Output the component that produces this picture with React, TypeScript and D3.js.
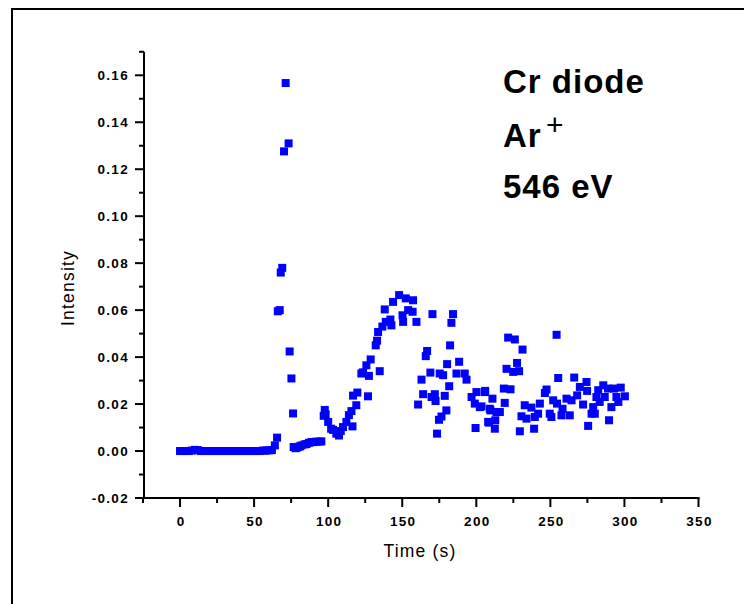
import React from "react";
import * as d3 from "d3";

const flatTimes = [0, 2, 4, 6, 8, 10, 12, 14, 16, 18, 20, 22, 24, 26, 28, 30, 32, 34, 36, 38, 40, 42, 44, 46, 48, 50, 52, 54, 56, 58, 60, 62];
const flatValues = [0, 0, 0, 0, 0.0002, 0.0005, 0.0004, 0, 0, 0, 0, 0, 0, 0, 0, 0, 0, 0, 0, 0, 0, 0, 0, 0, 0, 0, 0, 0, 0.0002, 0.0002, 0.0003, 0.0004];

const times = [
  64, 65.5, 66, 67.3, 68, 69, 70.2, 71.3, 73.3, 74, 75.2, 76.3, 76.7, 78, 79, 80, 81, 82, 84, 85.4, 87, 88.7, 90, 92, 94, 95.4,
  97, 97.7, 98.3, 100, 102, 103.3, 105.5, 107.3, 108.5, 110, 112.3, 114, 115.7, 116.4, 116.8, 119, 119.7, 122.4, 123.5, 125.8,
  126.9, 127.5, 128.7, 132.1, 133, 133.7, 134.8, 136.6, 138.2, 138.9, 142, 142.7, 143.8, 147.9, 150.2, 150.6, 152.4, 154, 157,
  157.3, 159.6, 160.7, 163, 164.1, 165.9, 166.8, 169, 169.8, 170.4, 172, 172.5, 173.5, 174.8, 175.3, 176.5, 177.6, 178.7, 179.8,
  180.3, 181.7, 182.3, 183.2, 184.3, 186.6, 188.4, 192.2, 193.4, 196.8, 199, 199.5, 200.1, 202.4, 203.5, 205.7, 206, 208, 208.6,
  209.1, 209.5, 210.9, 212.5, 212.8, 213.6, 215.9, 218.6, 219.2, 220.4, 221.5, 223.1, 224.9, 226, 227.5, 228.9, 229.4, 230.5,
  231.2, 232.7, 233.9, 237.2, 239, 239.5, 241.7, 242.9, 246.3, 247.4, 249.6, 250.7, 251.9, 254.2, 254.5, 255.3, 257.5, 258.2,
  260.9, 263.1, 264.3, 266.1, 268.1, 269.9, 272.1, 274.4, 274.8, 275.5, 277.8, 278.9, 280, 281.1, 282.3, 283.3, 285.7, 286.7,
  288.9, 289.6, 291.2, 293, 294.6, 295.9, 297.5, 300.3,
];
const values = [
  0.0024, 0.0057, 0.0595, 0.06, 0.076, 0.078, 0.1276, 0.1567, 0.131, 0.0424, 0.0309, 0.016, 0.0017, 0.0012, 0.0015, 0.0018, 0.002, 0.0024, 0.0028, 0.003, 0.0035, 0.0038, 0.0038, 0.004, 0.004, 0.0041,
  0.015, 0.0175, 0.0156, 0.0124, 0.0095, 0.009, 0.0074, 0.0066, 0.0085, 0.0102, 0.0124, 0.0153, 0.017, 0.0105, 0.0236, 0.0195, 0.0249, 0.033, 0.0335, 0.0365,
  0.0233, 0.032, 0.039, 0.045, 0.047, 0.0507, 0.034, 0.053, 0.0603, 0.055, 0.056, 0.0535, 0.0635, 0.0664, 0.0578, 0.055, 0.065, 0.06, 0.0593,
  0.0642, 0.055, 0.0198, 0.0304, 0.0242, 0.0404, 0.0426, 0.0334, 0.023, 0.0583, 0.0242, 0.0213, 0.0074, 0.0133, 0.033, 0.0147, 0.0323, 0.0235, 0.0173,
  0.037, 0.0276, 0.045, 0.0546, 0.0583, 0.033, 0.038, 0.033, 0.0304, 0.023, 0.0202, 0.0098, 0.0251, 0.0187, 0.019, 0.0251, 0.0256, 0.0124, 0.0121,
  0.018, 0.0173, 0.0223, 0.0095, 0.0131, 0.0166, 0.0166, 0.0266, 0.0205, 0.035, 0.0483, 0.0263, 0.0337, 0.0475, 0.0375, 0.034, 0.0084, 0.0148,
  0.0432, 0.0195, 0.0138, 0.0185, 0.0095, 0.0145, 0.0159, 0.0202, 0.0247, 0.0262, 0.0159, 0.0145, 0.0216, 0.0495, 0.0202, 0.0311, 0.0152, 0.018,
  0.0223, 0.0152, 0.0216, 0.0313, 0.0237, 0.0273, 0.0198, 0.0294, 0.0256, 0.0107, 0.0159, 0.0187, 0.0159, 0.023, 0.0259, 0.0209, 0.028, 0.023,
  0.0266, 0.0131, 0.0187, 0.0266, 0.023, 0.0209, 0.027, 0.0233,
];

const xMajorTicks = [0, 50, 100, 150, 200, 250, 300, 350];
const xMinorTicks = [-25, 25, 75, 125, 175, 225, 275, 325];
const yMajorTicks = [-0.02, 0, 0.02, 0.04, 0.06, 0.08, 0.1, 0.12, 0.14, 0.16];
const yMinorTicks = [-0.01, 0.01, 0.03, 0.05, 0.07, 0.09, 0.11, 0.13, 0.15, 0.17];

export default function App() {
  const x = d3.scaleLinear().domain([-25, 350]).range([143, 698.5]);
  const y = d3.scaleLinear().domain([-0.02, 0.17]).range([498, 51.8]);
  const pts = [
    ...flatTimes.map((t, i) => [t, flatValues[i]]),
    ...times.map((t, i) => [t, values[i]]),
  ];
  const sq = 8;
  const tickFont = { fontFamily: "Liberation Sans, Arial, sans-serif", fontWeight: 700, fontSize: 13.5, letterSpacing: 1.3 } as const;
  return (
    <svg width={744} height={604} style={{ position: "absolute", left: 0, top: 0, background: "#fff" }}>
      <rect x={0} y={0} width={744} height={604} fill="#fff" />
      <line x1={12} y1={9} x2={12} y2={604} stroke="#000" strokeWidth={2} />
      <line x1={11} y1={9} x2={744} y2={9} stroke="#000" strokeWidth={2} />
      {pts.map(([t, v], i) => (
        <rect key={i} x={x(t) - sq / 2} y={y(v) - sq / 2} width={sq} height={sq} fill="#0000ff" />
      ))}
      <line x1={144} y1={y(0.17)} x2={144} y2={499} stroke="#000" strokeWidth={2} />
      <line x1={143} y1={498} x2={x(350) + 1} y2={498} stroke="#000" strokeWidth={2} />
      {yMajorTicks.map((v) => (
        <g key={"ym" + v}>
          <line x1={135} x2={144} y1={y(v)} y2={y(v)} stroke="#000" strokeWidth={2} />
          <text x={129} y={y(v)} dy="0.36em" textAnchor="end" {...tickFont}>
            {d3.format(".2f")(v).replace("−", "-")}
          </text>
        </g>
      ))}
      {yMinorTicks.map((v) => (
        <line key={"yn" + v} x1={139} x2={144} y1={y(v)} y2={y(v)} stroke="#000" strokeWidth={2} />
      ))}
      {xMajorTicks.map((t) => (
        <g key={"xm" + t}>
          <line x1={x(t)} x2={x(t)} y1={498} y2={507} stroke="#000" strokeWidth={2} />
          <text x={x(t) + 1} y={526} textAnchor="middle" {...tickFont}>
            {t}
          </text>
        </g>
      ))}
      {xMinorTicks.map((t) => (
        <line key={"xn" + t} x1={x(t)} x2={x(t)} y1={498} y2={503} stroke="#000" strokeWidth={2} />
      ))}
      <text x={420} y={557} textAnchor="middle" fontFamily="Liberation Sans, Arial, sans-serif" fontSize={17.5} letterSpacing={1.2}>
        Time (s)
      </text>
      <text transform="translate(74,288) rotate(-90)" textAnchor="middle" fontFamily="Liberation Sans, Arial, sans-serif" fontSize={17.5} letterSpacing={1.2}>
        Intensity
      </text>
      <g fontFamily="Liberation Sans, Arial, sans-serif" fontWeight={700} fontSize={33} letterSpacing={1}>
        <text x={503} y={93}>Cr diode</text>
        <text x={503} y={147}>Ar</text>
        <text x={546} y={135} fontWeight={400} fontSize={30}>+</text>
        <text x={503} y={198}>546 eV</text>
      </g>
    </svg>
  );
}
